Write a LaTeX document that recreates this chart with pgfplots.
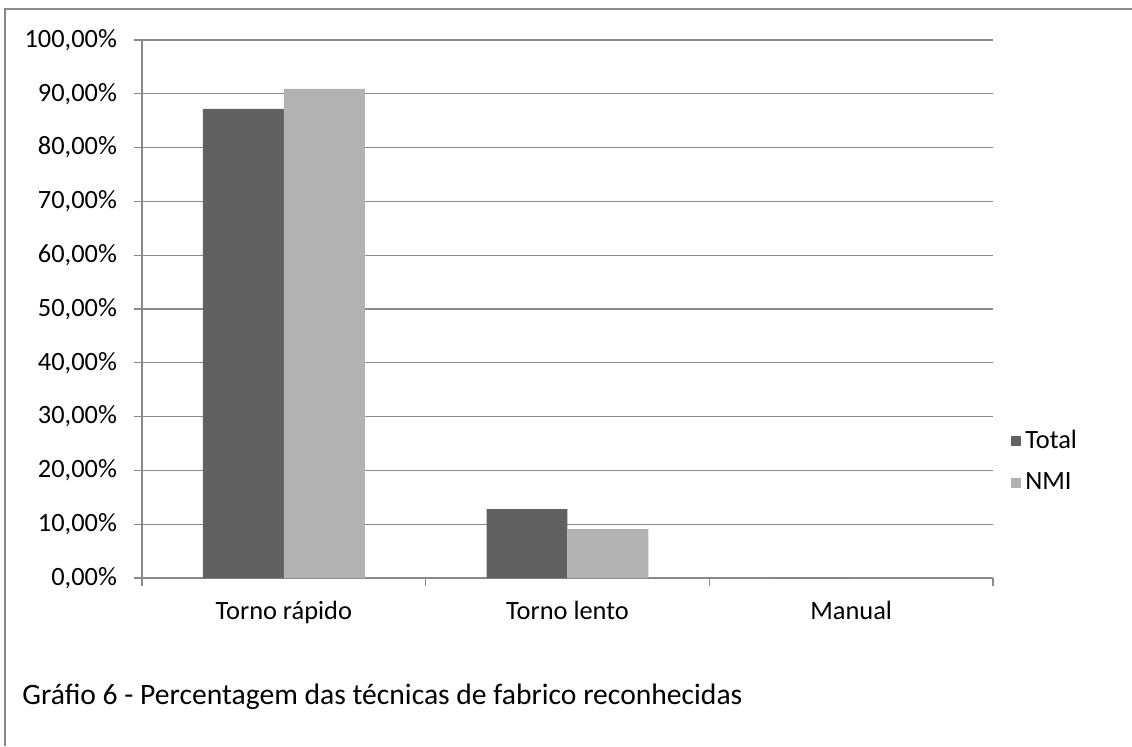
\documentclass[border=0pt]{standalone}
\usepackage{fontspec}
\setmainfont{Carlito}
\usepackage{pgfplots}
\pgfplotsset{compat=1.18}
\definecolor{gridgray}{HTML}{898989}
\definecolor{totalc}{HTML}{616161}
\definecolor{nmic}{HTML}{B2B2B2}
\begin{document}
\fontsize{13pt}{15.6pt}\selectfont
\begin{tikzpicture}
\path[use as bounding box] (0,0) rectangle (566pt,373pt);
\draw[gridgray, line width=0.75pt] (2.5pt,0) -- (2.5pt,368.5pt) -- (566pt,368.5pt);
\begin{axis}[
  at={(71pt,84pt)}, anchor=south west,
  scale only axis, width=425.5pt, height=269pt,
  ybar=0pt, bar width=0.2855,
  xmin=-0.5, xmax=2.5, ymin=0, ymax=100,
  axis x line*=bottom, axis y line*=left,
  axis line style={gridgray, line width=0.6pt},
  xtick={0,1,2}, xticklabels={Torno rápido, Torno lento, Manual},
  minor xtick={-0.5,0.5,1.5,2.5},
  major x tick style={draw=none},
  minor x tick style={gridgray, line width=0.6pt},
  minor tick length=4pt, major tick length=4pt,
  tick align=outside,
  ytick={0,10,...,100},
  ymajorgrids, grid style={gridgray, line width=0.6pt},
  y tick style={gridgray, line width=0.6pt},
  /pgf/number format/assume math mode=true,
  yticklabel={\pgfmathprintnumber[fixed,fixed zerofill,precision=2,use comma]{\tick}\%},
  yticklabel style={xshift=-4pt},
  xticklabel style={yshift=-3pt},
  tick label style={font=\fontsize{13.2pt}{15.8pt}\selectfont},
  legend style={at={(1.014,0.2165)}, anchor=west, draw=none, fill=none, row sep=6pt,
    font=\fontsize{13.2pt}{15.8pt}\selectfont},
  legend cell align=left,
  legend image code/.code={\fill[#1] (0pt,-2.5pt) rectangle (5pt,2.5pt);},
]
\addplot[fill=totalc, draw=none] coordinates {(0,87.2) (1,12.8) (2,0)};
\addplot[fill=nmic, draw=none] coordinates {(0,90.9) (1,9.1) (2,0)};
\legend{Total, NMI}
\end{axis}
\node[anchor=west, inner sep=0pt, font=\fontsize{14.8pt}{17.8pt}\selectfont] at (11pt,24.5pt) {Gráfio 6 - Percentagem das técnicas de fabrico reconhecidas};
\end{tikzpicture}
\end{document}
